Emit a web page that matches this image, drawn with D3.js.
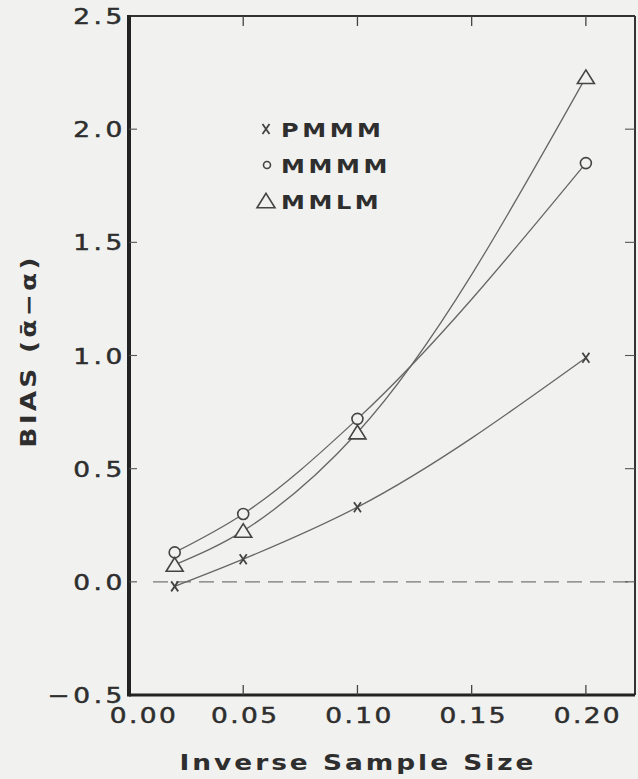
<!DOCTYPE html>
<html>
<head>
<meta charset="utf-8">
<script src="https://cdn.jsdelivr.net/npm/d3@7"></script>
<style>
  html, body { margin: 0; padding: 0; background: #f1f1ef; }
  svg { display: block; }
  text { fill: #2e2e2e; font-family: "DejaVu Sans", sans-serif; }
</style>
</head>
<body>
<svg id="chart"></svg>
<script>
// datos
const sampleInv = [0.02, 0.05, 0.10, 0.20];
const pmmm = [-0.02, 0.10, 0.33, 0.99];
const mmmm = [0.13, 0.30, 0.72, 1.85];
const mmlm = [0.075, 0.225, 0.66, 2.23];
const seriesNames = ["PMMM", "MMMM", "MMLM"];
const xTicks = [0.00, 0.05, 0.10, 0.15, 0.20];
const yTicks = [-0.5, 0.0, 0.5, 1.0, 1.5, 2.0, 2.5];

const width = 638;
const height = 779;
const margin = { top: 16, right: 3, bottom: 84, left: 129 };
const bg = "#f1f1ef";

const svg = d3.select("#chart")
    .attr("width", width)
    .attr("height", height);

const x = d3.scaleLinear().domain([0, 0.2215]).range([margin.left, width - margin.right]);
const y = d3.scaleLinear().domain([-0.5, 2.5]).range([height - margin.bottom, margin.top]);

// linea de cero discontinua
svg.append("line")
    .attr("x1", x(0.0105)).attr("x2", x(0.2215))
    .attr("y1", y(0)).attr("y2", y(0))
    .attr("stroke", "#777")
    .attr("stroke-width", 1.3)
    .attr("stroke-dasharray", "15,8");

// curvas
const line = d3.line()
    .x((d, i) => x(sampleInv[i]))
    .y(d => y(d))
    .curve(d3.curveMonotoneX);

[pmmm, mmmm, mmlm].forEach(function (vals) {
    svg.append("path")
        .attr("d", line(vals))
        .attr("fill", "none")
        .attr("stroke", "#666")
        .attr("stroke-width", 1.3);
});

// marcadores
function drawCross(g, cx, cy, s) {
    g.append("path")
        .attr("d", `M${cx - s * 0.7},${cy - s} L${cx + s * 0.7},${cy + s} M${cx + s * 0.7},${cy - s} L${cx - s * 0.7},${cy + s}`)
        .attr("stroke", "#444")
        .attr("stroke-width", 1.8)
        .attr("fill", "none");
}
function drawCircle(g, cx, cy, r) {
    g.append("circle")
        .attr("cx", cx).attr("cy", cy).attr("r", r)
        .attr("fill", bg)
        .attr("stroke", "#444")
        .attr("stroke-width", 1.6);
}
function drawTriangle(g, cx, cy, s) {
    g.append("path")
        .attr("d", `M${cx},${cy - s * 0.85} L${cx + s},${cy + s * 0.75} L${cx - s},${cy + s * 0.75} Z`)
        .attr("fill", bg)
        .attr("stroke", "#444")
        .attr("stroke-width", 1.6);
}

const marks = svg.append("g");
sampleInv.forEach(function (v, i) {
    drawCross(marks, x(v), y(pmmm[i]), 5);
    drawCircle(marks, x(v), y(mmmm[i]), 5.5);
    drawTriangle(marks, x(v), y(mmlm[i]), 8.5);
});

// marco y ticks hacia dentro
const plot = svg.append("g");
const x0 = x.range()[0], x1 = x.range()[1];
const y0 = y.range()[0], y1 = y.range()[1];
plot.append("line").attr("x1", x0).attr("x2", x1).attr("y1", y1).attr("y2", y1)
    .attr("stroke", "#333").attr("stroke-width", 2.2);
plot.append("line").attr("x1", x1).attr("x2", x1).attr("y1", y1).attr("y2", y0)
    .attr("stroke", "#333").attr("stroke-width", 2);
plot.append("line").attr("x1", x0).attr("x2", x1).attr("y1", y0).attr("y2", y0)
    .attr("stroke", "#222").attr("stroke-width", 3.2);
plot.append("line").attr("x1", x0).attr("x2", x0).attr("y1", y1 - 1).attr("y2", y0 + 1.5)
    .attr("stroke", "#222").attr("stroke-width", 4);

xTicks.slice(1).forEach(function (t) {
    plot.append("line").attr("x1", x(t)).attr("x2", x(t)).attr("y1", y0).attr("y2", y0 - 10)
        .attr("stroke", "#444").attr("stroke-width", 1.3);
    plot.append("line").attr("x1", x(t)).attr("x2", x(t)).attr("y1", y1).attr("y2", y1 + 10)
        .attr("stroke", "#444").attr("stroke-width", 1.3);
});
yTicks.slice(1, -1).forEach(function (t) {
    plot.append("line").attr("x1", x0).attr("x2", x0 + 8).attr("y1", y(t)).attr("y2", y(t))
        .attr("stroke", "#555").attr("stroke-width", 1.1);
    plot.append("line").attr("x1", x1).attr("x2", x1 - 10).attr("y1", y(t)).attr("y2", y(t))
        .attr("stroke", "#555").attr("stroke-width", 1.1);
});

// etiquetas de ticks (letra ancha: escala horizontal 1.2)
svg.append("g").selectAll("text")
    .data(yTicks)
    .join("text")
    .attr("transform", d => `translate(${x0 - 3},${y(d) + 8}) scale(1.2,1)`)
    .attr("text-anchor", "end")
    .attr("font-size", 22)
    .attr("letter-spacing", 3)
    .attr("stroke", "#2e2e2e")
    .attr("stroke-width", 0.5)
    .text(d => (d < 0 ? "\u2212" : "") + Math.abs(d).toFixed(1));

svg.append("g").selectAll("text")
    .data(xTicks)
    .join("text")
    .attr("transform", (d, i) => `translate(${x(d) + (i == 0 ? 13 : 0) + 2},${y0 + 28}) scale(1.2,1)`)
    .attr("text-anchor", "middle")
    .attr("font-size", 22)
    .attr("letter-spacing", 2)
    .attr("stroke", "#2e2e2e")
    .attr("stroke-width", 0.5)
    .text(d => d.toFixed(2));

// titulos de ejes
svg.append("text")
    .attr("transform", "translate(358,770) scale(1.2,1)")
    .attr("text-anchor", "middle")
    .attr("font-size", 22)
    .attr("font-weight", "bold")
    .attr("letter-spacing", 2.5)
    .text("Inverse Sample Size");

svg.append("text")
    .attr("transform", "translate(36,351) rotate(-90) scale(1.2,1)")
    .attr("text-anchor", "middle")
    .attr("font-size", 22)
    .attr("font-weight", "bold")
    .attr("letter-spacing", 2.7)
    .text("BIAS (\u1FB1\u2212\u03B1)");

// leyenda
const legend = svg.append("g");
const legendY = [129, 165, 201];
seriesNames.forEach(function (name, i) {
    const cy = legendY[i];
    if (i == 0) drawCross(legend, 266, cy, 5);
    if (i == 1) drawCircle(legend, 267, cy, 3.5);
    if (i == 2) drawTriangle(legend, 266, cy, 9);
    legend.append("text")
        .attr("transform", `translate(281,${cy + 8}) scale(1.2,1)`)
        .attr("font-size", 20)
        .attr("font-weight", "bold")
        .attr("letter-spacing", 3)
        .text(name);
});
</script>
</body>
</html>
